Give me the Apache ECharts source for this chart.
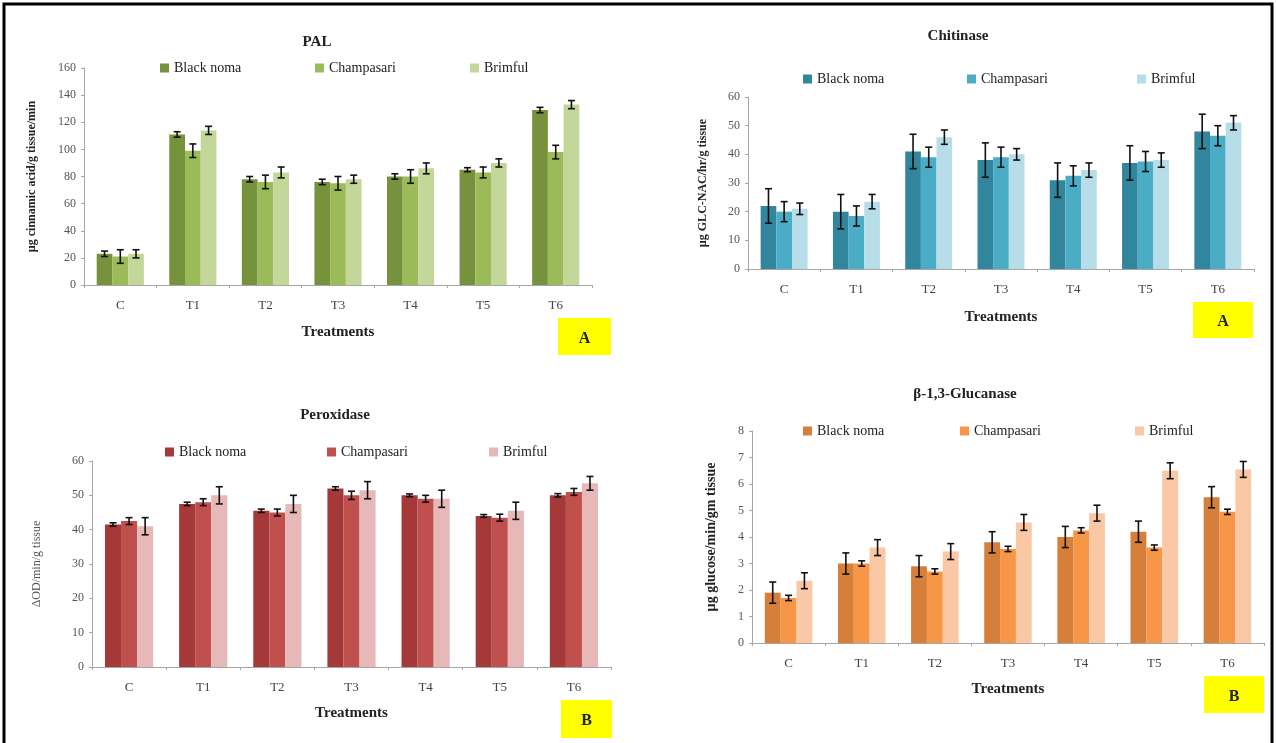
<!DOCTYPE html>
<html>
<head>
<meta charset="utf-8">
<script src="https://cdn.jsdelivr.net/npm/echarts@6/dist/echarts.min.js"></script>
<style>
html,body{margin:0;padding:0;background:#fff;}
#chart{width:1276px;height:743px;}
</style>
</head>
<body>
<div id="chart"></div>
<script>
// ---------- DATA ----------
const categories = ['C', 'T1', 'T2', 'T3', 'T4', 'T5', 'T6'];
const seriesNames = ['Black noma', 'Champasari', 'Brimful'];

// PAL (µg cinnamic acid/g tissue/min)
const palBlack = [23, 111, 78, 76, 80, 85, 129];
const palChamp = [21, 99, 76, 75, 80, 83, 98];
const palBrim  = [23, 114, 83, 78, 86, 90, 133];
const palBlackErr = [2, 2, 2, 2, 2, 1.5, 2];
const palChampErr = [5, 5, 5, 5, 5, 4, 5];
const palBrimErr  = [3, 3, 4, 3, 4, 3, 3];

// Chitinase (µg GLC-NAC/hr/g tissue)
const chiBlack = [22, 20, 41, 38, 31, 37, 48];
const chiChamp = [20, 18.5, 39, 39, 32.5, 37.5, 46.5];
const chiBrim  = [21, 23.5, 46, 40, 34.5, 38, 51];
const chiBlackErr = [6, 6, 6, 6, 6, 6, 6];
const chiChampErr = [3.5, 3.5, 3.5, 3.5, 3.5, 3.5, 3.5];
const chiBrimErr  = [2, 2.5, 2.5, 2, 2.5, 2.5, 2.5];

// Peroxidase (ΔOD/min/g tissue)
const poxBlack = [41.5, 47.5, 45.5, 52, 50, 44, 50];
const poxChamp = [42.5, 48, 45, 50, 49, 43.5, 51];
const poxBrim  = [41, 50, 47.5, 51.5, 49, 45.5, 53.5];
const poxBlackErr = [0.5, 0.5, 0.5, 0.5, 0.4, 0.4, 0.5];
const poxChampErr = [1, 1, 1, 1.2, 1, 1, 1];
const poxBrimErr  = [2.5, 2.5, 2.5, 2.5, 2.5, 2.5, 2];

// β-1,3-Glucanase (µg glucose/min/gm tissue)
const gluBlack = [1.9, 3.0, 2.9, 3.8, 4.0, 4.2, 5.5];
const gluChamp = [1.7, 3.0, 2.7, 3.55, 4.25, 3.6, 4.95];
const gluBrim  = [2.35, 3.6, 3.45, 4.55, 4.9, 6.5, 6.55];
const gluBlackErr = [0.4, 0.4, 0.4, 0.4, 0.4, 0.4, 0.4];
const gluChampErr = [0.1, 0.1, 0.1, 0.1, 0.1, 0.1, 0.1];
const gluBrimErr  = [0.3, 0.3, 0.3, 0.3, 0.3, 0.3, 0.3];

// y-axis scales
const palAxis = {min: 0, max: 160, interval: 20};
const chiAxis = {min: 0, max: 60, interval: 10};
const poxAxis = {min: 0, max: 60, interval: 10};
const gluAxis = {min: 0, max: 8, interval: 1};

// ---------- LAYOUT / STYLE ----------
const SERIF = '"Liberation Serif", "DejaVu Serif", serif';
const CAT_GAP = 0.35;

const panels = [
  {key: 'PAL', title: 'PAL', yName: 'µg cinnamic acid/g tissue/min',
   values: [palBlack, palChamp, palBrim], errs: [palBlackErr, palChampErr, palBrimErr], axis: palAxis,
   colors: ['#76923c', '#9bbb59', '#c4d79b'],
   grid: {left: 84, top: 68, width: 508, height: 217},
   titlePos: [312, 30], legend: {lefts: [160, 315, 470], top: 61},
   yNameGap: 46, yNameBold: true, yNameSize: 12, xNameGap: 40,
   box: {x: 558, y: 318, w: 53, h: 37, letter: 'A'}},
  {key: 'CHI', title: 'Chitinase', yName: 'µg GLC-NAC/hr/g tissue',
   values: [chiBlack, chiChamp, chiBrim], errs: [chiBlackErr, chiChampErr, chiBrimErr], axis: chiAxis,
   colors: ['#31859c', '#4bacc6', '#b7dde8'],
   grid: {left: 748, top: 97, width: 506, height: 172},
   titlePos: [953, 24], legend: {lefts: [803, 967, 1137], top: 72},
   yNameGap: 39, yNameBold: true, yNameSize: 12, xNameGap: 41,
   box: {x: 1193, y: 302, w: 60, h: 36, letter: 'A'}},
  {key: 'POX', title: 'Peroxidase', yName: 'ΔOD/min/g tissue',
   values: [poxBlack, poxChamp, poxBrim], errs: [poxBlackErr, poxChampErr, poxBrimErr], axis: poxAxis,
   colors: ['#a5393a', '#c0504d', '#e6b9b8'],
   grid: {left: 92, top: 461, width: 519, height: 206},
   titlePos: [330, 403], legend: {lefts: [165, 327, 489], top: 445},
   yNameGap: 49, yNameBold: false, yNameSize: 12, xNameGap: 39,
   box: {x: 561, y: 700, w: 51, h: 38, letter: 'B'}},
  {key: 'GLU', title: 'β-1,3-Glucanase', yName: 'µg glucose/min/gm tissue',
   values: [gluBlack, gluChamp, gluBrim], errs: [gluBlackErr, gluChampErr, gluBrimErr], axis: gluAxis,
   colors: ['#d57f3a', '#f79646', '#fac8a4'],
   grid: {left: 752, top: 431, width: 512, height: 212},
   titlePos: [960, 382], legend: {lefts: [803, 960, 1135], top: 424},
   yNameGap: 34, yNameBold: true, yNameSize: 14, xNameGap: 39,
   box: {x: 1204, y: 676, w: 60, h: 37, letter: 'B'}}
];

function errRenderer(offsetIdx) {
  return function (params, api) {
    const xi = api.value(0), v = api.value(1), e = api.value(2);
    const band = api.size([1, 0])[0];
    const bw = band * (1 - CAT_GAP) / 3;
    const cx = api.coord([xi, v])[0] + (offsetIdx - 1) * bw;
    const yt = api.coord([xi, v + e])[1];
    const yb = api.coord([xi, v - e])[1];
    const cap = 3.5;
    const st = {stroke: '#111', lineWidth: 1.6};
    return {type: 'group', children: [
      {type: 'line', shape: {x1: cx, y1: yt, x2: cx, y2: yb}, style: st},
      {type: 'line', shape: {x1: cx - cap, y1: yt, x2: cx + cap, y2: yt}, style: st},
      {type: 'line', shape: {x1: cx - cap, y1: yb, x2: cx + cap, y2: yb}, style: st}
    ]};
  };
}

const option = {
  animation: false,
  backgroundColor: '#fff',
  title: [], legend: [], grid: [], xAxis: [], yAxis: [], series: [],
  graphic: []
};

panels.forEach((p, gi) => {
  option.grid.push(Object.assign({containLabel: false}, p.grid));
  option.title.push({
    text: p.title, left: p.titlePos[0], top: p.titlePos[1], textAlign: 'center',
    textStyle: {fontFamily: SERIF, fontWeight: 'bold', fontSize: 15, color: '#222'}
  });
  option.xAxis.push({
    type: 'category', gridIndex: gi, data: categories,
    name: 'Treatments', nameLocation: 'middle', nameGap: p.xNameGap,
    nameTextStyle: {fontFamily: SERIF, fontWeight: 'bold', fontSize: 15, color: '#222'},
    axisLine: {lineStyle: {color: '#a6a6a6', width: 1}},
    axisTick: {show: true, alignWithLabel: false, length: 3, lineStyle: {color: '#a6a6a6'}},
    axisLabel: {fontFamily: SERIF, fontSize: 13, color: '#444', margin: 14}
  });
  option.yAxis.push({
    type: 'value', gridIndex: gi, min: p.axis.min, max: p.axis.max, interval: p.axis.interval,
    name: p.yName, nameLocation: 'middle', nameGap: p.yNameGap, nameRotate: 90,
    nameTextStyle: {fontFamily: SERIF, fontWeight: p.yNameBold ? 'bold' : 'normal',
      fontSize: p.yNameSize, color: p.yNameBold ? '#222' : '#555'},
    axisLine: {show: true, lineStyle: {color: '#a6a6a6', width: 1}},
    axisTick: {show: true, length: 3, lineStyle: {color: '#a6a6a6'}},
    splitLine: {show: false},
    axisLabel: {fontFamily: SERIF, fontSize: 12, color: '#555', margin: 8}
  });
  const names = seriesNames.map(n => p.key + '|' + n);
  names.forEach((n, si) => {
    option.legend.push({
      data: [n], left: p.legend.lefts[si], top: p.legend.top, orient: 'horizontal',
      icon: 'rect', itemWidth: 9, itemHeight: 9, padding: 0,
      selectedMode: false,
      formatter: name => name.split('|')[1],
      textStyle: {fontFamily: SERIF, fontSize: 14, color: '#222'}
    });
  });
  names.forEach((n, si) => {
    option.series.push({
      name: n, type: 'bar', xAxisIndex: gi, yAxisIndex: gi,
      data: p.values[si], barGap: '0%', barCategoryGap: (CAT_GAP * 100) + '%',
      itemStyle: {color: p.colors[si]}
    });
  });
  names.forEach((n, si) => {
    option.series.push({
      type: 'custom', xAxisIndex: gi, yAxisIndex: gi, z: 5,
      renderItem: errRenderer(si),
      encode: {x: 0, y: 1},
      data: p.values[si].map((v, ci) => [ci, v, p.errs[si][ci]]),
      silent: true
    });
  });
  option.graphic.push({
    type: 'rect', shape: {x: p.box.x, y: p.box.y, width: p.box.w, height: p.box.h},
    style: {fill: '#ffff00'}, z: 10
  });
  option.graphic.push({
    type: 'text', x: p.box.x + p.box.w / 2, y: p.box.y + p.box.h / 2 + 2,
    style: {text: p.box.letter, fill: '#222', font: 'bold 16px ' + SERIF, align: 'center', verticalAlign: 'middle'},
    z: 11
  });
});

// outer frame
option.graphic.push({
  type: 'rect', shape: {x: 4, y: 4, width: 1268, height: 745},
  style: {fill: 'none', stroke: '#000', lineWidth: 3}, z: 20
});

const chart = echarts.init(document.getElementById('chart'));
chart.setOption(option);
</script>
</body>
</html>
